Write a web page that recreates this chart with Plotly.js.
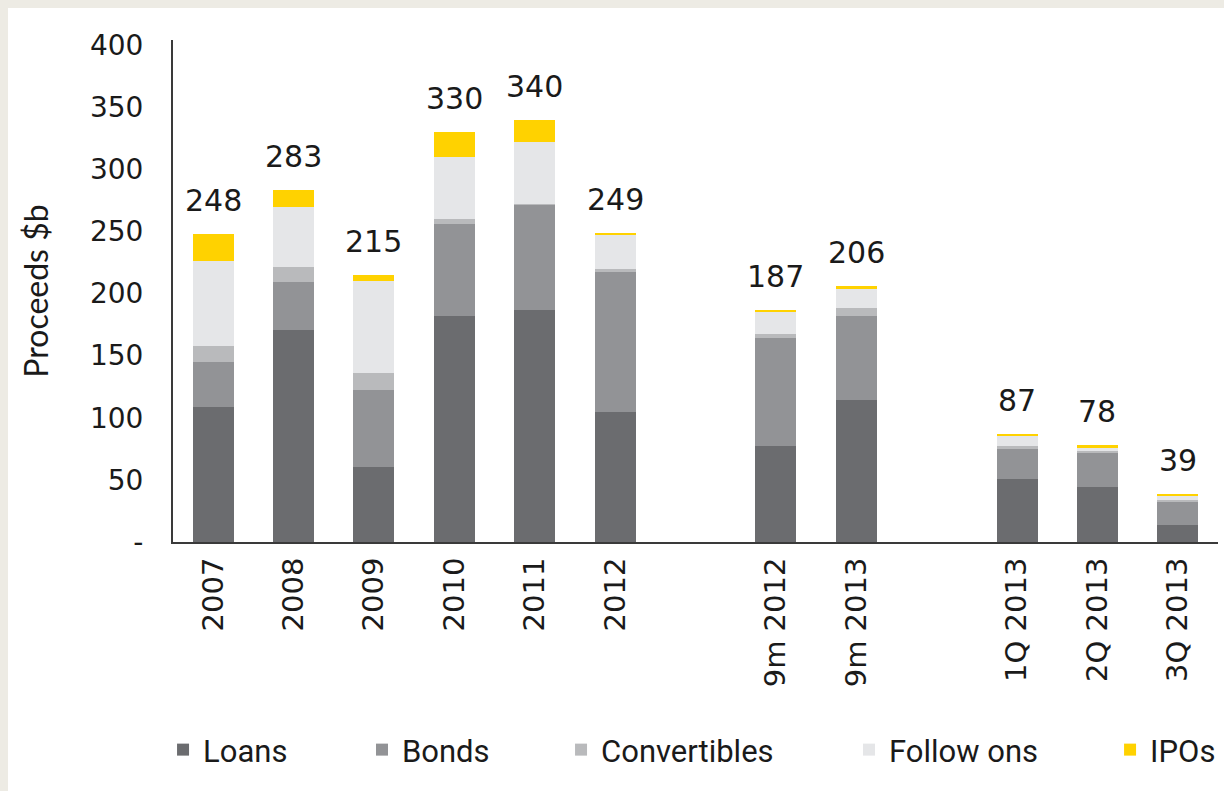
<!DOCTYPE html>
<html>
<head>
<meta charset="utf-8">
<script src="https://cdn.plot.ly/plotly-3.0.1.min.js"></script>
<style>
  html, body { margin: 0; padding: 0; background: #edebe4; width: 1224px; height: 791px; overflow: hidden; }
  #chart { position: absolute; left: 8px; top: 8px; width: 1216px; height: 783px; background: #ffffff; }
</style>
</head>
<body>
<div id="chart"></div>
<script>
// Categories (blank entries are the visual gaps between groups)
const categories = ['2007', '2008', '2009', '2010', '2011', '2012', ' ', '9m 2012', '9m 2013', '  ', '1Q 2013', '2Q 2013', '3Q 2013'];

// Series values ($b)
const loans       = [109, 171,  60, 182, 187, 105, null,  77, 114, null, 51, 44, 14];
const bonds       = [ 36,  38,  62,  74,  84, 112, null,  87,  68, null, 24, 28, 18];
const convertibles= [ 13,  12,  14,   4,   1,   3, null,   3,   6, null,  2,  1,  2];
const followOns   = [ 68,  49,  74,  50,  50,  27, null,  18,  16, null,  8,  3,  3];
const ipos        = [ 22,  13,   5,  20,  18,   2, null,   2,   2, null,  2,  2,  2];

// Total labels above bars
const totals      = [248, 283, 215, 330, 340, 249, null, 187, 206, null, 87, 78, 39];

// Y tick labels
const yTickVals   = [0, 50, 100, 150, 200, 250, 300, 350, 400];
const yTickText   = ['-', '50', '100', '150', '200', '250', '300', '350', '400'];

const seriesNames = ['Loans', 'Bonds', 'Convertibles', 'Follow ons', 'IPOs'];
const seriesData  = [loans, bonds, convertibles, followOns, ipos];
const seriesColors= ['#6b6c6f', '#929396', '#b9babc', '#e5e6e8', '#ffd200'];
const legendIds   = ['legend', 'legend2', 'legend3', 'legend4', 'legend5'];
const legendX     = [0.1275, 0.2911, 0.4548, 0.6916, 0.9063];

const traces = seriesNames.map((name, i) => ({
  type: 'bar',
  name: name,
  x: categories,
  y: seriesData[i],
  marker: { color: seriesColors[i], line: { width: 0 } },
  legend: legendIds[i],
  hoverinfo: 'x+y+name'
}));

// Total labels: annotations placed at each category's index on the category axis
const annotations = [];
categories.forEach((c, i) => {
  if (totals[i] == null) return;
  annotations.push({
    x: i, y: totals[i], xref: 'x', yref: 'y',
    text: String(totals[i]), showarrow: false,
    xanchor: 'center', yanchor: 'bottom', yshift: 14,
    font: { family: 'DejaVu Sans', size: 30, color: '#1a1a1a' }
  });
});

const legendFont = { family: 'Roboto', size: 31, color: '#1a1a1a' };
const layout = {
  width: 1216, height: 783,
  paper_bgcolor: '#ffffff', plot_bgcolor: '#ffffff',
  margin: { l: 165, r: 6, t: 32, b: 249 },
  barmode: 'stack',
  bargap: 0.49,
  xaxis: {
    type: 'category',
    categoryorder: 'array', categoryarray: categories,
    range: [-0.5, categories.length - 0.5], autorange: false,
    showline: true, linecolor: '#3a3a3a', linewidth: 2,
    showgrid: false, zeroline: false,
    ticks: 'outside', ticklen: 2, tickcolor: 'rgba(0,0,0,0)',
    tickangle: -90,
    tickfont: { family: 'DejaVu Sans', size: 29, color: '#1a1a1a' },
    fixedrange: true
  },
  yaxis: {
    range: [0, 404], autorange: false,
    tickvals: yTickVals, ticktext: yTickText,
    showline: true, linecolor: '#3a3a3a', linewidth: 2,
    showgrid: false, zeroline: false,
    ticks: 'outside', ticklen: 22, tickcolor: 'rgba(0,0,0,0)',
    tickfont: { family: 'DejaVu Sans', size: 28, color: '#1a1a1a' },
    title: { text: 'Proceeds $b', font: { family: 'Lato', size: 32, color: '#1a1a1a' }, standoff: 32 },
    fixedrange: true
  },
  annotations: annotations,
  showlegend: true
};
legendIds.forEach((id, i) => {
  layout[id] = {
    orientation: 'h', xref: 'container', yref: 'container',
    x: legendX[i], y: 0.0524, xanchor: 'left', yanchor: 'middle',
    font: legendFont, bgcolor: 'rgba(0,0,0,0)', borderwidth: 0
  };
});

Plotly.newPlot('chart', traces, layout, { displayModeBar: false, staticPlot: true });
</script>
</body>
</html>
